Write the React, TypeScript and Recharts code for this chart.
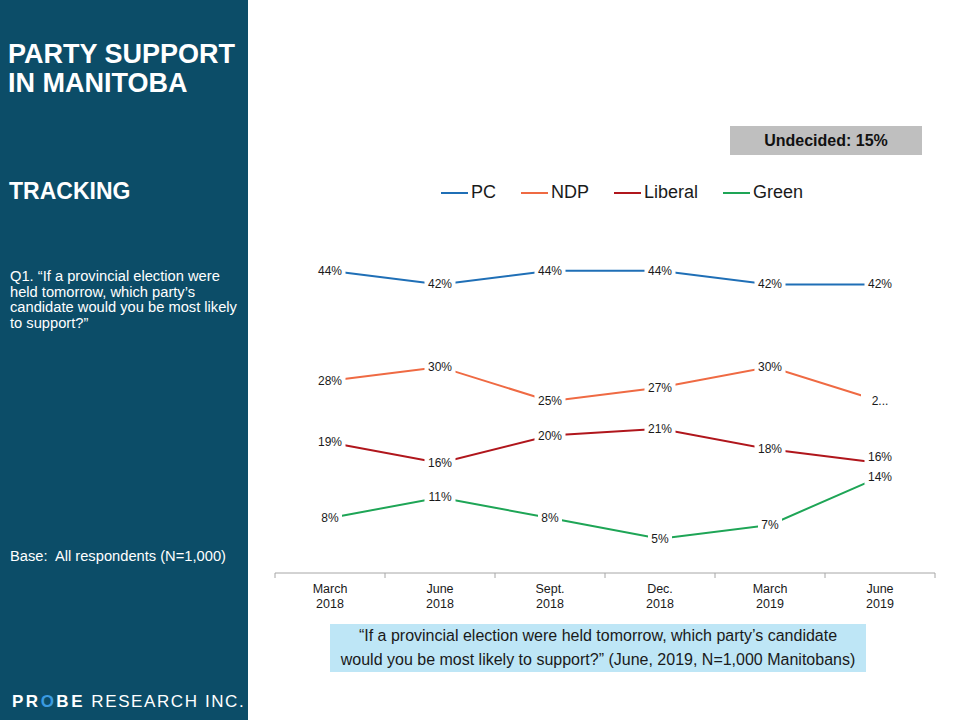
import { LabelList, Legend, Line, LineChart, XAxis, YAxis } from "recharts";

const periods = ["March 2018", "June 2018", "Sept. 2018", "Dec. 2018", "March 2019", "June 2019"];
const pc = [44, 42, 44, 44, 42, 42];
const ndp = [28, 30, 25, 27, 30, 25];
const liberal = [19, 16, 20, 21, 18, 16];
const green = [8, 11, 8, 5, 7, 14];
const undecided = 15;

const series = [
  { key: "pc", name: "PC", color: "#1f6fb6" },
  { key: "ndp", name: "NDP", color: "#ef6a43" },
  { key: "liberal", name: "Liberal", color: "#b0161c" },
  { key: "green", name: "Green", color: "#1ea556" },
];

// the slide cuts the last NDP label short, and nudges the last Liberal one up
const labelOverrides: Record<string, string> = { "ndp-5": "2..." };
const labelShift: Record<string, number> = { "liberal-5": -6 };

const data = periods.map((period, i) => ({
  period,
  pc: pc[i],
  ndp: ndp[i],
  liberal: liberal[i],
  green: green[i],
}));

const FONT = '"Liberation Sans", Arial, sans-serif';
const PANEL = "#0c4d68";
const HALF_BAND = 55;

function PeriodTick(props: any) {
  const { x, y, payload, index } = props;
  const words = String(payload.value).split(" ");
  const year = words.pop();
  const month = words.join(" ");
  return (
    <g>
      <line x1={x - HALF_BAND} x2={x - HALF_BAND} y1={y} y2={y + 5} stroke="#a6a6a6" />
      {index === periods.length - 1 && (
        <line x1={x + HALF_BAND} x2={x + HALF_BAND} y1={y} y2={y + 5} stroke="#a6a6a6" />
      )}
      <text x={x} y={y + 20} textAnchor="middle" fontSize={12.5} fill="#1a1a1a" fontFamily={FONT}>
        {month}
      </text>
      <text x={x} y={y + 35} textAnchor="middle" fontSize={12.5} fill="#1a1a1a" fontFamily={FONT}>
        {year}
      </text>
    </g>
  );
}

function pointLabel(seriesKey: string) {
  return (props: any) => {
    const x = props.x ?? props.viewBox?.x;
    const id = `${seriesKey}-${props.index}`;
    const y = (props.y ?? props.viewBox?.y) + (labelShift[id] ?? 0);
    const text = labelOverrides[id] ?? `${props.value}%`;
    const w = text.length * 7 + 10;
    return (
      <g>
        <rect x={x - w / 2} y={y - 8} width={w} height={16} fill="#fff" />
        <text x={x} y={y + 4} textAnchor="middle" fontSize={12} fill="#1a1a1a" fontFamily={FONT}>
          {text}
        </text>
      </g>
    );
  };
}

function LegendRow() {
  return (
    <div style={{ display: "flex", gap: 25, fontFamily: FONT, fontSize: 18, color: "#1a1a1a" }}>
      {series.map((s) => (
        <div key={s.key} style={{ display: "flex", alignItems: "center" }}>
          <span style={{ display: "inline-block", width: 27, height: 2, background: s.color, marginRight: 3 }} />
          <span>{s.name}</span>
        </div>
      ))}
    </div>
  );
}

export default function App() {
  return (
    <div
      style={{
        position: "absolute",
        left: 0,
        top: 0,
        width: 960,
        height: 720,
        background: "#fff",
        overflow: "hidden",
        fontFamily: FONT,
      }}
    >
      <div style={{ position: "absolute", left: 0, top: 0, width: 248, height: 720, background: PANEL, color: "#fff" }}>
        <div style={{ position: "absolute", left: 8, top: 40, fontSize: 27, fontWeight: 700, lineHeight: "29px" }}>
          PARTY SUPPORT
          <br />
          IN MANITOBA
        </div>
        <div style={{ position: "absolute", left: 9, top: 178, fontSize: 23, fontWeight: 700 }}>TRACKING</div>
        <div style={{ position: "absolute", left: 10, top: 269, fontSize: 14.7, lineHeight: "15.5px", whiteSpace: "nowrap" }}>
          Q1. “If a provincial election were
          <br />
          held tomorrow, which party’s
          <br />
          candidate would you be most likely
          <br />
          to support?”
        </div>
        <div style={{ position: "absolute", left: 10, top: 548, fontSize: 14.7 }}>Base:&nbsp; All respondents (N=1,000)</div>
        <div style={{ position: "absolute", left: 12, top: 692, fontSize: 17, letterSpacing: 1.6, whiteSpace: "nowrap" }}>
          <span style={{ fontWeight: 700, letterSpacing: 2.5 }}>
            PR<span style={{ color: "#3b9be0" }}>O</span>BE
          </span>{" "}
          RESEARCH INC.
        </div>
      </div>

      <div
        style={{
          position: "absolute",
          left: 730,
          top: 126,
          width: 192,
          height: 29,
          background: "#bfbfbf",
          display: "flex",
          alignItems: "center",
          justifyContent: "center",
          fontSize: 16,
          fontWeight: 700,
          color: "#111",
        }}
      >
        Undecided: {undecided}%
      </div>

      <div style={{ position: "absolute", left: 248, top: 0 }}>
        <LineChart width={712} height={720} data={data} margin={{ top: 229.5, right: 25, bottom: 117, left: 27 }}>
          <XAxis
            dataKey="period"
            interval={0}
            height={30}
            padding={{ left: HALF_BAND, right: HALF_BAND }}
            tickLine={false}
            tickSize={0}
            tickMargin={0}
            axisLine={{ stroke: "#a6a6a6" }}
            tick={<PeriodTick />}
          />
          <YAxis hide domain={[0, 50]} />
          <Legend
            verticalAlign="middle"
            align="center"
            content={<LegendRow />}
            wrapperStyle={{ left: 193, top: 182, width: "auto" }}
          />
          {series.map((s) => (
            <Line
              key={s.key}
              dataKey={s.key}
              name={s.name}
              stroke={s.color}
              strokeWidth={2}
              dot={false}
              activeDot={false}
              legendType="plainline"
              isAnimationActive={false}
            >
              <LabelList dataKey={s.key} content={pointLabel(s.key)} />
            </Line>
          ))}
        </LineChart>
      </div>

      <div
        style={{
          position: "absolute",
          left: 330,
          top: 624,
          width: 536,
          height: 48,
          background: "#bee6f6",
          display: "flex",
          alignItems: "center",
          justifyContent: "center",
          textAlign: "center",
          fontSize: 16,
          lineHeight: "24px",
          color: "#1a1a1a",
          whiteSpace: "nowrap",
        }}
      >
        <div>
          “If a provincial election were held tomorrow, which party’s candidate
          <br />
          would you be most likely to support?” (June, 2019, N=1,000 Manitobans)
        </div>
      </div>
    </div>
  );
}
